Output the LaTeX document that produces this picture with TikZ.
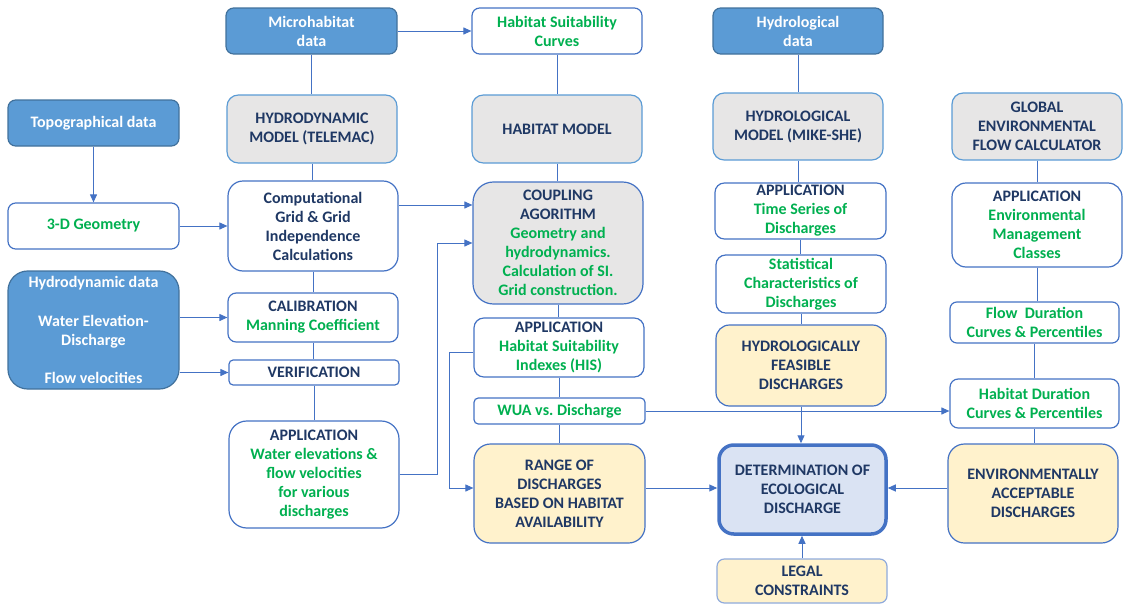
\documentclass[tikz,border=0pt]{standalone}
\usepackage{fontspec}
\setmainfont{Carlito}
\frenchspacing
\usetikzlibrary{arrows.meta,calc}
\definecolor{bfill}{HTML}{5B9BD5}
\definecolor{bdark}{HTML}{41719C}
\definecolor{lblue}{HTML}{4472C4}
\definecolor{gfill}{HTML}{E7E6E6}
\definecolor{yfill}{HTML}{FFF2CC}
\definecolor{dfill}{HTML}{DAE3F3}
\definecolor{navy}{HTML}{1F3864}
\definecolor{grn}{HTML}{00B050}
\definecolor{lborder}{HTML}{8FAADC}
\tikzset{
 base/.style={align=center, inner sep=0pt, font=\fontsize{16}{19}\selectfont\bfseries, line width=1.2pt, text=navy},
 datab/.style={base, fill=bfill, draw=bdark, text=white},
 whiteb/.style={base, fill=white, draw=lblue},
 grayb/.style={base, fill=gfill, draw=bfill},
 yelb/.style={base, fill=yfill, draw=lblue},
 legb/.style={base, fill=yfill, draw=lborder},
 detb/.style={base, fill=dfill, draw=lblue, line width=3.5pt},
 ln/.style={draw=lblue, line width=1pt},
 arr/.style={ln, -{Triangle[length=8pt,width=7pt]}},
}
\newcommand{\bx}[7]{%
  \pgfmathsetmacro\bw{#4-#2}\pgfmathsetmacro\bh{#5-#3}%
  \pgfmathsetmacro\br{0.1667*min(\bw,\bh)}%
  \node[#6, minimum width=\bw pt, minimum height=\bh pt, rounded corners=\br pt] (#1) at ({(#2+#4)/2},{(#3+#5)/2}) {#7};}
\begin{document}
\begin{tikzpicture}[x=1pt,y=-1pt]
\useasboundingbox (0,0) rectangle (1124,605);
% column 1
\bx{topo}{8}{100}{179}{146}{datab}{Topographical data}
\bx{geo}{8}{203}{179}{249}{whiteb}{\color{grn}3-D Geometry}
\bx{hdd}{8}{271}{179}{389}{datab}{Hydrodynamic data\\[20pt]Water Elevation-\\Discharge\\[19pt]Flow velocities}
% column 2
\bx{micro}{226}{8}{397}{54}{datab}{Microhabitat\\data}
\bx{hydro}{227}{95}{397}{163}{grayb}{HYDRODYNAMIC\\MODEL (TELEMAC)}
\bx{comp}{228}{181}{398}{271}{whiteb}{Computational\\Grid \& Grid\\Independence\\Calculations}
\bx{calib}{228}{293}{398}{342}{whiteb}{CALIBRATION\\\color{grn}Manning Coefficient}
\bx{verif}{229}{360}{399}{385}{whiteb}{VERIFICATION}
\bx{appw}{229}{421}{399}{528}{whiteb}{APPLICATION\\\color{grn}Water elevations \&\\\color{grn}flow velocities\\\color{grn}for various\\\color{grn}discharges}
% column 3
\bx{hsc}{472}{8}{642}{54}{whiteb}{\color{grn}Habitat Suitability\\\color{grn}Curves}
\bx{habm}{472}{95}{642}{163}{grayb}{HABITAT MODEL}
\bx{cpl}{473}{182}{643}{304}{grayb,draw=lblue}{COUPLING\\AGORITHM\\\color{grn}Geometry and\\\color{grn}hydrodynamics.\\\color{grn}Calculation of SI.\\\color{grn}Grid construction.}
\bx{his}{474}{318}{644}{377}{whiteb}{APPLICATION\\\color{grn}Habitat Suitability\\\color{grn}Indexes (HIS)}
\bx{wua}{474}{398}{645}{424}{whiteb}{\color{grn}WUA vs. Discharge}
\bx{range}{474}{444}{645}{543}{yelb}{RANGE OF\\DISCHARGES\\BASED ON HABITAT\\AVAILABILITY}
% column 4
\bx{hyd}{713}{8}{883}{54}{datab}{Hydrological\\data}
\bx{hydm}{713}{93}{883}{160}{grayb}{HYDROLOGICAL\\MODEL (MIKE-SHE)}
\bx{apts}{715}{183}{886}{239}{whiteb}{APPLICATION\\\color{grn}Time Series of\\\color{grn}Discharges}
\bx{stat}{716}{255}{886}{313}{whiteb}{\color{grn}Statistical\\\color{grn}Characteristics of\\\color{grn}Discharges}
\bx{hfd}{716}{325}{886}{406}{yelb}{HYDROLOGICALLY\\FEASIBLE\\DISCHARGES}
\bx{det}{719}{445}{886}{534}{detb}{DETERMINATION OF\\ECOLOGICAL\\DISCHARGE}
\bx{legal}{717}{559}{887}{603}{legb}{LEGAL\\CONSTRAINTS}
% column 5
\bx{glob}{952}{93}{1122}{160}{grayb}{GLOBAL\\ENVIRONMENTAL\\FLOW CALCULATOR}
\bx{apenv}{952}{183}{1122}{267}{whiteb}{APPLICATION\\\color{grn}Environmental\\\color{grn}Management\\\color{grn}Classes}
\bx{fdc}{950}{302}{1119}{343}{whiteb}{\color{grn}Flow~~Duration\\\color{grn}Curves \& Percentiles}
\bx{hdc}{950}{379}{1119}{428}{whiteb}{\color{grn}Habitat Duration\\\color{grn}Curves \& Percentiles}
\bx{env}{948}{444}{1118}{543}{yelb}{ENVIRONMENTALLY\\ACCEPTABLE\\DISCHARGES}
% connectors
\coordinate (y205) at (0,205);
\coordinate (yA) at (0,488);
\draw[arr] (micro.east) -- (hsc.west);
\draw[ln] (micro.south) -- (micro.south |- hydro.north);
\draw[ln] (hydro.south) -- (hydro.south |- comp.north);
\draw[ln] (comp.south) -- (comp.south |- calib.north);
\draw[ln] (calib.south) -- (calib.south |- verif.north);
\draw[ln] (verif.south) -- (verif.south |- appw.north);
\draw[arr] (topo.south) -- (geo.north);
\draw[arr] (geo.east) -- (comp.west);
\draw[arr] (hdd.east |- calib.west) -- (calib.west);
\draw[arr] (hdd.east |- verif.west) -- (verif.west);
\draw[arr] (comp.east |- y205) -- (cpl.west |- y205);
\draw[arr] (appw.east) -- ++(38,0) |- (cpl.west);
\draw[ln] (hsc.south) -- (hsc.south |- habm.north);
\draw[ln] (habm.south) -- (habm.south |- cpl.north);
\draw[ln] (cpl.south) -- (cpl.south |- his.north);
\draw[ln] (his.south) -- (his.south |- wua.north);
\draw[ln] (wua.south) -- (wua.south |- range.north);
\draw[arr] ([yshift=-4.5pt]his.west) -- ++(-24,0) |- (range.west |- yA);
\draw[arr] (range.east |- yA) -- (det.west |- yA);
\draw[arr] (env.west |- yA) -- (det.east |- yA);
\draw[arr] (wua.east) -- (hdc.west |- wua.east);
\draw[ln] (hyd.south) -- (hyd.south |- hydm.north);
\draw[ln] (hydm.south) -- (hydm.south |- apts.north);
\draw[ln] (apts.south) -- (apts.south |- stat.north);
\draw[ln] (stat.south) -- (stat.south |- hfd.north);
\draw[arr] (hfd.south) -- (hfd.south |- det.north);
\draw[arr] (legal.north) -- (legal.north |- det.south);
\draw[ln] (glob.south) -- (glob.south |- apenv.north);
\draw[ln] (apenv.south) -- (apenv.south |- fdc.north);
\draw[ln] (fdc.south) -- (fdc.south |- hdc.north);
\draw[ln] (hdc.south) -- (hdc.south |- env.north);
\end{tikzpicture}
\end{document}
